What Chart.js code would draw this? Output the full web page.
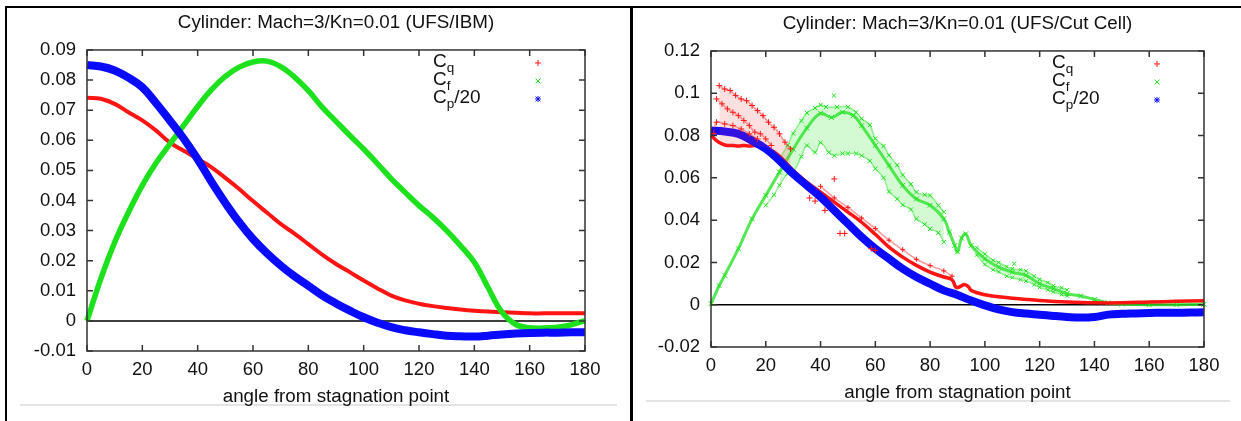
<!DOCTYPE html>
<html>
<head>
<meta charset="utf-8">
<title>Cylinder Mach=3 Kn=0.01</title>
<script src="https://cdn.jsdelivr.net/npm/chart.js@4.4.1/dist/chart.umd.min.js"></script>
<style>
  html, body { margin: 0; padding: 0; background: #fff; }
  #page { position: relative; width: 1241px; height: 421px; overflow: hidden; background: #fff; }
  .panel { position: absolute; top: 0; height: 421px; }
  #ibmPanel { left: 0; width: 630px; }
  #ccPanel { left: 632px; width: 609px; }
  .rule { position: absolute; background: #000; z-index: 2; }
  .base { position: absolute; background: #e4e4e4; height: 2px; }
</style>
</head>
<body>
<div id="page">
  <div class="base" style="left:20px;top:404px;width:597px"></div>
  <div class="base" style="left:646px;top:400px;width:584px"></div>
  <div class="panel" id="ibmPanel"><canvas id="ibmChart"></canvas></div>
  <div class="panel" id="ccPanel"><canvas id="ccChart"></canvas></div>
  <div class="rule" style="left:5px;top:6px;width:1236px;height:2px"></div>
  <div class="rule" style="left:5px;top:6px;width:2px;height:415px"></div>
  <div class="rule" style="left:630px;top:6px;width:3px;height:415px"></div>
</div>
<script>
// === DATA ===

// shared angle grid, degrees from stagnation point
var angle = [0, 5, 10, 15, 20, 25, 30, 35, 40, 45, 50, 55, 60, 65, 70, 75, 80, 85, 90,
  95, 100, 105, 110, 115, 120, 125, 130, 135, 140, 145, 150, 155, 160, 165, 170, 175, 180];
var xTicks = [0, 20, 40, 60, 80, 100, 120, 140, 160, 180];

// left panel: UFS/IBM
var ibmYTicks = [-0.01, 0, 0.01, 0.02, 0.03, 0.04, 0.05, 0.06, 0.07, 0.08, 0.09];
var ibmCq = [0.0741, 0.0738, 0.0721, 0.0693, 0.0666, 0.0632, 0.0592, 0.0565, 0.0538, 0.051,
  0.0475, 0.0438, 0.0398, 0.036, 0.0322, 0.029, 0.0255, 0.022, 0.0189, 0.0162, 0.0134, 0.0108,
  0.0084, 0.0068, 0.0057, 0.0049, 0.0043, 0.0038, 0.0034, 0.0031, 0.0029, 0.0027, 0.0025,
  0.0025, 0.0025, 0.0025, 0.0025];
var ibmCf = [0, 0.014, 0.0261, 0.0361, 0.045, 0.0525, 0.0588, 0.065, 0.0712, 0.0768, 0.0812,
  0.0843, 0.086, 0.0863, 0.0845, 0.081, 0.0765, 0.071, 0.0663, 0.0616, 0.0571, 0.0522, 0.0472,
  0.0427, 0.0383, 0.0344, 0.03, 0.025, 0.0195, 0.011, 0.0029, -0.0012, -0.0023, -0.0024,
  -0.0021, -0.0013, 0.0001];
var ibmCp = [0.085, 0.0845, 0.0832, 0.0808, 0.0776, 0.0723, 0.0665, 0.0605, 0.0537, 0.0462,
  0.0392, 0.0328, 0.0272, 0.0225, 0.0184, 0.0148, 0.0117, 0.0085, 0.0058, 0.0034, 0.0012,
  -0.0006, -0.0021, -0.0031, -0.0038, -0.0044, -0.0049, -0.0051, -0.0052, -0.0049, -0.0045,
  -0.0042, -0.004, -0.0039, -0.0039, -0.0038, -0.0038];

// right panel: UFS/Cut Cell
var ccYTicks = [-0.02, 0, 0.02, 0.04, 0.06, 0.08, 0.1, 0.12];
var ccCp = [0.0824, 0.0819, 0.0808, 0.0776, 0.0737, 0.0682, 0.0619, 0.0564, 0.0509, 0.0446,
  0.0383, 0.032, 0.0265, 0.0217, 0.017, 0.0131, 0.0099, 0.0068, 0.0046, 0.002, -0.0003,
  -0.0022, -0.0035, -0.0042, -0.0047, -0.0053, -0.0058, -0.0061, -0.0058, -0.0047, -0.0043,
  -0.0041, -0.0039, -0.0038, -0.0038, -0.0037, -0.0036];

var ccCqAngle = [0, 2, 4, 6, 8, 10, 12, 14, 16, 18, 20, 22, 24, 26, 30, 35, 40, 45, 50, 55,
  60, 65, 70, 75, 80, 85, 88, 89.5, 91, 92.5, 94, 95, 100, 105, 110, 115, 120, 130, 140, 150,
  160, 170, 180];
var ccCq = [0.0803, 0.0776, 0.0761, 0.0753, 0.0753, 0.075, 0.0753, 0.075, 0.0753, 0.0748,
  0.0742, 0.073, 0.0713, 0.069, 0.0635, 0.058, 0.0532, 0.0485, 0.0438, 0.039, 0.0333, 0.0272,
  0.0225, 0.0186, 0.0154, 0.0131, 0.0118, 0.0082, 0.0086, 0.0095, 0.0085, 0.0068, 0.0047,
  0.0038, 0.0031, 0.0025, 0.002, 0.0013, 0.0009, 0.0009, 0.0013, 0.0016, 0.0019];
var ccCqTopAngle = [3, 5, 7, 9, 11, 13, 15, 17, 19, 21, 23, 25, 27, 29];
var ccCqTop = [0.1036, 0.102, 0.1013, 0.099, 0.0973, 0.0965, 0.0942, 0.0918, 0.0894, 0.0863,
  0.0839, 0.0808, 0.0769, 0.0737];
var ccCqMidAngle = [2, 4, 6, 8, 10, 12, 14, 16, 18, 20, 22];
var ccCqMid = [0.0973, 0.095, 0.0926, 0.091, 0.0894, 0.0871, 0.0847, 0.0816, 0.0808, 0.0784,
  0.0753];
var ccCqLowAngle = [1, 2, 5, 8, 11, 14, 17];
var ccCqLow = [0.081, 0.0863, 0.0855, 0.0847, 0.0831, 0.0808, 0.0784];
var ccCqHiAngle = [40, 45, 50, 55, 60, 65, 70, 75, 80, 85, 88];
var ccCqHi = [0.056, 0.0505, 0.046, 0.041, 0.036, 0.0305, 0.026, 0.0215, 0.0185, 0.016, 0.0135];
var ccCqOutAngle = [36, 38, 41.6, 45, 47.1, 48.8, 58.5, 60];
var ccCqOut = [0.0505, 0.049, 0.0446, 0.0595, 0.0337, 0.0337, 0.0265, 0.0257];

var ccCfAngle = [0, 3, 5, 10, 15, 20, 25, 30, 35, 40, 44, 48, 52, 55, 60, 65, 70, 75, 80, 85,
  87, 89, 90, 91.5, 93, 95, 100, 105, 110, 115, 120, 125, 130, 135, 140, 145, 150, 160, 170, 180];
var ccCf = [0.0005, 0.009, 0.0139, 0.0265, 0.0406, 0.0517, 0.0627, 0.0735, 0.0835, 0.0905,
  0.0885, 0.091, 0.0895, 0.0847, 0.0753, 0.0658, 0.0564, 0.05, 0.047, 0.0406, 0.0343, 0.028,
  0.025, 0.0315, 0.0335, 0.028, 0.0217, 0.0178, 0.0154, 0.0139, 0.0099, 0.0076, 0.0052, 0.0041,
  0.0025, 0.0009, 0.0003, 0, 0, 0.0002];
var ccCfHiAngle = [25, 28, 30, 33, 35, 38, 40, 42, 46, 50, 53, 55, 58, 60, 63, 65, 68, 70, 73,
  75, 78, 80, 83, 85];
var ccCfHi = [0.069, 0.0755, 0.081, 0.087, 0.0907, 0.093, 0.0945, 0.0935, 0.0935, 0.0935,
  0.091, 0.088, 0.085, 0.0786, 0.075, 0.0707, 0.066, 0.0614, 0.057, 0.0532, 0.052, 0.0517,
  0.047, 0.0439];
var ccCfLoAngle = [20, 23, 25, 28, 30, 33, 35, 38, 40, 43, 45, 48, 50, 53, 55, 58, 60, 63, 65,
  68, 70, 73, 75, 78, 80, 83, 85];
var ccCfLo = [0.047, 0.052, 0.0565, 0.062, 0.0627, 0.07, 0.0753, 0.072, 0.0766, 0.072, 0.0705,
  0.0715, 0.0715, 0.0715, 0.0705, 0.068, 0.0643, 0.06, 0.0535, 0.05, 0.0472, 0.045, 0.0406,
  0.038, 0.0359, 0.034, 0.0296];
var ccCfTailAngle = [97, 100, 103, 105, 108, 110, 113, 115, 118, 120, 123, 125, 128, 130];
var ccCfTailHi = [0.027, 0.024, 0.021, 0.02, 0.018, 0.017, 0.0165, 0.016, 0.0135, 0.012,
  0.0105, 0.009, 0.008, 0.007];
var ccCfTailLo = [0.0235, 0.019, 0.0165, 0.0155, 0.0135, 0.0128, 0.0118, 0.0112, 0.0095,
  0.0082, 0.007, 0.006, 0.0048, 0.0042];
var ccCfOutAngle = [44.9, 110.7];
var ccCfOut = [0.0989, 0.0194];

// === STYLE ===
var FONT = '"Liberation Sans", Arial, Helvetica, sans-serif';
var INK = '#111';
var RED = 'rgb(255,20,20)';
var GREEN = 'rgb(30,225,30)';
var BLUE = 'rgb(10,10,255)';
var RED_SOFT = 'rgba(255,0,0,0.4)';
var GREEN_SOFT = 'rgba(30,225,30,0.45)';

function pts(xs, ys) {
  return xs.map(function(x, i) { return { x: x, y: ys[i] }; });
}

// dense marker band -> thick smooth line
function band(label, xs, ys, color, width, order) {
  return {
    label: label, data: pts(xs, ys), showLine: true, borderColor: color, borderWidth: width,
    pointRadius: 0, tension: 0.4, order: order, clip: 8
  };
}

// scattered markers, optionally tied by a faint line
function marks(label, xs, ys, color, style, r, line, order) {
  return {
    label: label, data: pts(xs, ys), showLine: !!line, borderColor: line || color,
    borderWidth: line ? 1.5 : 0, tension: 0.4,
    pointStyle: style, pointRadius: r, pointBorderColor: color, pointBorderWidth: 1,
    pointBackgroundColor: color, order: order, clip: 8
  };
}

// cloud of markers: shade between this branch and another dataset
function cloud(ds, target, shade) {
  ds.fill = { target: target };
  ds.backgroundColor = shade;
  return ds;
}

// gnuplot look: zero axis under data, full border and inward ticks on top
var gnuplotFrame = {
  id: 'gnuplotFrame',
  beforeDatasetsDraw: function(chart) {
    var a = chart.chartArea, ctx = chart.ctx;
    var y0 = chart.scales.y.getPixelForValue(0);
    ctx.save();
    ctx.strokeStyle = '#000';
    ctx.lineWidth = 1.5;
    ctx.beginPath();
    ctx.moveTo(a.left, y0);
    ctx.lineTo(a.right, y0);
    ctx.stroke();
    ctx.restore();
  },
  afterDatasetsDraw: function(chart) {
    var a = chart.chartArea, ctx = chart.ctx, len = 6;
    var sx = chart.scales.x, sy = chart.scales.y;
    ctx.save();
    ctx.strokeStyle = '#333';
    ctx.lineWidth = 1.5;
    ctx.strokeRect(a.left, a.top, a.right - a.left, a.bottom - a.top);
    ctx.beginPath();
    sx.ticks.forEach(function(t) {
      var px = sx.getPixelForValue(t.value);
      ctx.moveTo(px, a.bottom); ctx.lineTo(px, a.bottom - len);
      ctx.moveTo(px, a.top); ctx.lineTo(px, a.top + len);
    });
    sy.ticks.forEach(function(t) {
      var py = sy.getPixelForValue(t.value);
      ctx.moveTo(a.left, py); ctx.lineTo(a.left + len, py);
      ctx.moveTo(a.right, py); ctx.lineTo(a.right - len, py);
    });
    ctx.stroke();
    ctx.restore();
  }
};

function drawMarker(ctx, style, x, y, color) {
  var r = 3;
  ctx.save();
  ctx.strokeStyle = color;
  ctx.lineWidth = 1;
  ctx.beginPath();
  if (style === 'cross' || style === 'star') {
    ctx.moveTo(x - r, y); ctx.lineTo(x + r, y);
    ctx.moveTo(x, y - r); ctx.lineTo(x, y + r);
  }
  if (style === 'crossRot' || style === 'star') {
    var d = r * 0.8;
    ctx.moveTo(x - d, y - d); ctx.lineTo(x + d, y + d);
    ctx.moveTo(x - d, y + d); ctx.lineTo(x + d, y - d);
  }
  ctx.stroke();
  ctx.restore();
}

// key in the top right: label (with subscript) then its marker
var gnuplotKey = {
  id: 'gnuplotKey',
  afterDraw: function(chart, args, opts) {
    var a = chart.chartArea, ctx = chart.ctx;
    ctx.save();
    ctx.fillStyle = INK;
    ctx.textAlign = 'left';
    ctx.textBaseline = 'middle';
    opts.items.forEach(function(it, i) {
      var y = a.top + 12 + i * 18;
      var x = a.right - 152;
      ctx.font = '19px ' + FONT;
      ctx.fillText(it.main, x, y);
      x += ctx.measureText(it.main).width;
      ctx.font = '13.5px ' + FONT;
      ctx.fillText(it.sub, x, y + 6);
      x += ctx.measureText(it.sub).width;
      if (it.tail) {
        ctx.font = '19px ' + FONT;
        ctx.fillText(it.tail, x, y);
      }
      drawMarker(ctx, it.style, a.right - 47, y + 1, it.color);
    });
    ctx.restore();
  }
};

var keyItems = [
  { main: 'C', sub: 'q', tail: '', style: 'cross', color: RED },
  { main: 'C', sub: 'f', tail: '', style: 'crossRot', color: GREEN },
  { main: 'C', sub: 'p', tail: '/20', style: 'star', color: BLUE }
];

function tickLabel(v) {
  return v === 0 ? '0' : String(Number(v.toFixed(2)));
}

function buildChart(canvasId, cfg) {
  return new Chart(document.getElementById(canvasId), {
    type: 'scatter',
    data: { datasets: cfg.datasets },
    options: {
      responsive: true,
      maintainAspectRatio: false,
      animation: false,
      events: [],
      layout: { padding: cfg.padding },
      plugins: {
        legend: { display: false },
        tooltip: { enabled: false },
        filler: { propagate: false },
        title: {
          display: true,
          text: cfg.title,
          fullSize: false,
          color: INK,
          font: { family: FONT, size: 18.8, weight: 'normal' },
          padding: cfg.titlePad
        },
        gnuplotKey: { items: keyItems }
      },
      scales: {
        x: {
          type: 'linear',
          min: 0,
          max: 180,
          afterBuildTicks: function(scale) {
            scale.ticks = xTicks.map(function(v) { return { value: v }; });
          },
          afterFit: function(scale) { scale.height = 58; },
          grid: { display: false, drawTicks: false },
          border: { display: false },
          ticks: { color: INK, font: { family: FONT, size: 18.5 }, padding: cfg.xTickPad, maxRotation: 0 },
          title: {
            display: true,
            text: 'angle from stagnation point',
            color: INK,
            font: { family: FONT, size: 18.8 },
            padding: { top: 0, bottom: 1 }
          }
        },
        y: {
          type: 'linear',
          min: cfg.yTicks[0],
          max: cfg.yTicks[cfg.yTicks.length - 1],
          afterBuildTicks: function(scale) {
            scale.ticks = cfg.yTicks.map(function(v) { return { value: v }; });
          },
          afterFit: function(scale) { scale.width = cfg.yWidth; },
          grid: { display: false, drawTicks: false },
          border: { display: false },
          ticks: {
            color: INK,
            font: { family: FONT, size: 18.5 },
            padding: 11,
            callback: function(v) { return tickLabel(v); }
          }
        }
      }
    },
    plugins: [gnuplotFrame, gnuplotKey]
  });
}

buildChart('ibmChart', {
  title: 'Cylinder: Mach=3/Kn=0.01 (UFS/IBM)',
  titlePad: { top: 11.7, bottom: 15.7 },
  padding: { top: 0, left: 0, right: 45, bottom: 12 },
  yWidth: 87,
  xTickPad: 8,
  yTicks: ibmYTicks,
  datasets: [
    band('Cq', angle, ibmCq, RED, 4, 2),
    band('Cf', angle, ibmCf, GREEN, 5.5, 1),
    band('Cp/20', angle, ibmCp, BLUE, 8, 0)
  ]
});

// right panel datasets; fill targets are dataset indexes in this list
var ccCfMain = marks('Cf', ccCfAngle, ccCf, GREEN, 'crossRot', 3.5, 'rgba(40,225,40,0.8)', 3);
ccCfMain.borderWidth = 3;

buildChart('ccChart', {
  title: 'Cylinder: Mach=3/Kn=0.01 (UFS/Cut Cell)',
  titlePad: { top: 12.7, bottom: 15.7 },
  padding: { top: 0, left: 0, right: 37, bottom: 16 },
  yWidth: 79,
  xTickPad: 8,
  yTicks: ccYTicks,
  datasets: [
    /* 0 */ cloud(marks('Cq top', ccCqTopAngle, ccCqTop, RED, 'cross', 3, RED_SOFT, 0), 6, 'rgba(255,60,60,0.16)'),
    /* 1 */ marks('Cq mid', ccCqMidAngle, ccCqMid, RED, 'cross', 3, RED_SOFT, 0),
    /* 2 */ marks('Cq low', ccCqLowAngle, ccCqLow, RED, 'cross', 3, RED_SOFT, 0),
    /* 3 */ marks('Cq fringe', ccCqHiAngle, ccCqHi, RED, 'cross', 2.5, RED_SOFT, 0),
    /* 4 */ marks('Cq outliers', ccCqOutAngle, ccCqOut, RED, 'cross', 3, null, 0),
    /* 5 */ band('Cp/20', angle, ccCp, BLUE, 8, 1),
    /* 6 */ band('Cq', ccCqAngle, ccCq, RED, 3.5, 2),
    /* 7 */ cloud(marks('Cf hi', ccCfHiAngle, ccCfHi, GREEN, 'crossRot', 3, GREEN_SOFT, 3), 8, 'rgba(60,230,60,0.22)'),
    /* 8 */ marks('Cf lo', ccCfLoAngle, ccCfLo, GREEN, 'crossRot', 3, GREEN_SOFT, 3),
    /* 9 */ cloud(marks('Cf tail hi', ccCfTailAngle, ccCfTailHi, GREEN, 'crossRot', 2.5, GREEN_SOFT, 3), 10, 'rgba(60,230,60,0.22)'),
    /* 10 */ marks('Cf tail lo', ccCfTailAngle, ccCfTailLo, GREEN, 'crossRot', 2.5, GREEN_SOFT, 3),
    /* 11 */ marks('Cf outliers', ccCfOutAngle, ccCfOut, GREEN, 'crossRot', 3, null, 3),
    /* 12 */ ccCfMain
  ]
});
</script>
</body>
</html>
